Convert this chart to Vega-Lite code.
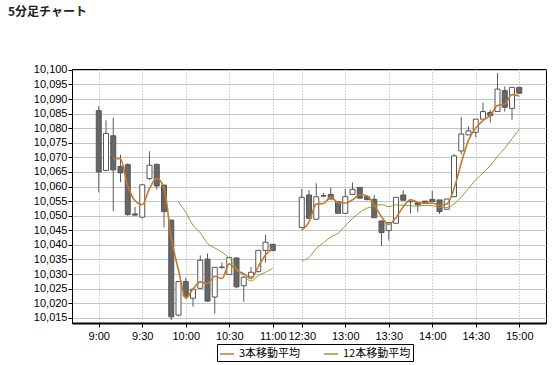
{
  "$schema": "https://vega.github.io/schema/vega-lite/v6.json",
  "autosize": {"type": "none"},
  "padding": {"left": 72, "top": 69, "right": 13, "bottom": 42},
  "width": 474,
  "height": 254,
  "background": "white",
  "title": {"text": "5分足チャート", "anchor": "start", "frame": "group", "dx": -64, "offset": 45, "fontSize": 12, "fontWeight": "bold", "font": "Noto Sans CJK JP", "color": "#222"},
  "config": {
    "view": {"stroke": "#000", "strokeWidth": 1},
    "font": "Liberation Sans",
    "axis": {"labelFont": "Liberation Sans", "labelFontSize": 11, "labelColor": "#000", "domainColor": "#000", "tickColor": "#000", "tickSize": 4, "title": null}
  },
  "data": {"values": [
    {"t":"9:00","i":0,"s":"am","o":10086,"h":10087.5,"l":10058,"c":10065,"m3":null,"m12":null},
    {"t":"9:05","i":1,"s":"am","o":10065.5,"h":10082.7,"l":10065.3,"c":10078.2,"m3":null,"m12":null},
    {"t":"9:10","i":2,"s":"am","o":10077.4,"h":10083.6,"l":10051.5,"c":10065.7,"m3":10069.63,"m12":null},
    {"t":"9:15","i":3,"s":"am","o":10066.9,"h":10070.9,"l":10061.5,"c":10064.7,"m3":10069.53,"m12":null},
    {"t":"9:20","i":4,"s":"am","o":10067.5,"h":10068,"l":10049.8,"c":10050.4,"m3":10060.27,"m12":null},
    {"t":"9:25","i":5,"s":"am","o":10050.6,"h":10053,"l":10050,"c":10050.2,"m3":10055.1,"m12":null},
    {"t":"9:30","i":6,"s":"am","o":10049.5,"h":10060.9,"l":10049,"c":10060.6,"m3":10053.73,"m12":null},
    {"t":"9:35","i":7,"s":"am","o":10062.7,"h":10072.1,"l":10062.3,"c":10067.3,"m3":10059.37,"m12":null},
    {"t":"9:40","i":8,"s":"am","o":10067.6,"h":10067.8,"l":10059,"c":10060.2,"m3":10062.7,"m12":null},
    {"t":"9:45","i":9,"s":"am","o":10060.5,"h":10060.5,"l":10046,"c":10051.4,"m3":10059.63,"m12":null},
    {"t":"9:50","i":10,"s":"am","o":10048.5,"h":10048.5,"l":10014.2,"c":10015.3,"m3":10042.3,"m12":null},
    {"t":"9:55","i":11,"s":"am","o":10015.9,"h":10027.4,"l":10015.5,"c":10027.4,"m3":10031.37,"m12":10054.7},
    {"t":"10:00","i":12,"s":"am","o":10027.4,"h":10028.7,"l":10022,"c":10022.4,"m3":10021.7,"m12":10051.15},
    {"t":"10:05","i":13,"s":"am","o":10021.7,"h":10024.8,"l":10018.8,"c":10024.8,"m3":10024.87,"m12":10046.7},
    {"t":"10:10","i":14,"s":"am","o":10025.1,"h":10036.4,"l":10025,"c":10034.7,"m3":10027.3,"m12":10044.12},
    {"t":"10:15","i":15,"s":"am","o":10035.1,"h":10037,"l":10020.5,"c":10020.7,"m3":10026.73,"m12":10040.45},
    {"t":"10:20","i":16,"s":"am","o":10022.1,"h":10032.3,"l":10016.4,"c":10032.3,"m3":10029.23,"m12":10038.94},
    {"t":"10:25","i":17,"s":"am","o":10032.2,"h":10034,"l":10031.8,"c":10032.4,"m3":10028.47,"m12":10037.46},
    {"t":"10:30","i":18,"s":"am","o":10029.8,"h":10035.7,"l":10029.7,"c":10035.7,"m3":10033.47,"m12":10035.38},
    {"t":"10:35","i":19,"s":"am","o":10035.5,"h":10035.6,"l":10025.1,"c":10025.6,"m3":10031.23,"m12":10031.91},
    {"t":"10:40","i":20,"s":"am","o":10026,"h":10028.9,"l":10020.5,"c":10028.9,"m3":10030.07,"m12":10029.3},
    {"t":"10:45","i":21,"s":"am","o":10029,"h":10032.4,"l":10029,"c":10030.6,"m3":10028.37,"m12":10027.57},
    {"t":"10:50","i":22,"s":"am","o":10030.8,"h":10038.1,"l":10030.8,"c":10038.1,"m3":10032.53,"m12":10029.47},
    {"t":"10:55","i":23,"s":"am","o":10038.1,"h":10043.4,"l":10033.9,"c":10040.9,"m3":10036.53,"m12":10030.59},
    {"t":"11:00","i":24,"s":"am","o":10040.2,"h":10040.2,"l":10038,"c":10038,"m3":10039,"m12":10031.89},
    {"t":"12:30","i":28,"s":"pm","o":10046,"h":10059.2,"l":10046,"c":10056.3,"m3":10045.07,"m12":10034.52},
    {"t":"12:35","i":29,"s":"pm","o":10057.1,"h":10058.8,"l":10049,"c":10049.1,"m3":10047.8,"m12":10035.72},
    {"t":"12:40","i":30,"s":"pm","o":10048.8,"h":10061.1,"l":10048.8,"c":10056.5,"m3":10053.97,"m12":10038.7},
    {"t":"12:45","i":31,"s":"pm","o":10056.7,"h":10057.8,"l":10056.3,"c":10056.9,"m3":10054.17,"m12":10040.75},
    {"t":"12:50","i":32,"s":"pm","o":10057.3,"h":10059.7,"l":10055.7,"c":10055.7,"m3":10056.37,"m12":10042.69},
    {"t":"12:55","i":33,"s":"pm","o":10054.8,"h":10054.8,"l":10050.8,"c":10050.8,"m3":10054.47,"m12":10043.95},
    {"t":"13:00","i":34,"s":"pm","o":10050.8,"h":10059.2,"l":10050.8,"c":10056.5,"m3":10054.33,"m12":10046.53},
    {"t":"13:05","i":35,"s":"pm","o":10057.3,"h":10061.4,"l":10057.3,"c":10059,"m3":10055.43,"m12":10049.03},
    {"t":"13:10","i":36,"s":"pm","o":10059.7,"h":10059.7,"l":10056,"c":10056,"m3":10057.17,"m12":10051.15},
    {"t":"13:15","i":37,"s":"pm","o":10056.5,"h":10056.8,"l":10055.3,"c":10055.5,"m3":10056.83,"m12":10052.6},
    {"t":"13:20","i":38,"s":"pm","o":10055.6,"h":10057.1,"l":10049.3,"c":10049.3,"m3":10053.6,"m12":10053.3},
    {"t":"13:25","i":39,"s":"pm","o":10048.2,"h":10048.2,"l":10039.6,"c":10044.2,"m3":10049.67,"m12":10053.82},
    {"t":"13:30","i":40,"s":"pm","o":10044.9,"h":10047.6,"l":10041.5,"c":10047.6,"m3":10047.03,"m12":10053.09},
    {"t":"13:35","i":41,"s":"pm","o":10047.4,"h":10056.3,"l":10047.4,"c":10056.3,"m3":10049.37,"m12":10053.69},
    {"t":"13:40","i":42,"s":"pm","o":10057.1,"h":10058.7,"l":10055.2,"c":10055.3,"m3":10053.07,"m12":10053.59},
    {"t":"13:45","i":43,"s":"pm","o":10054.9,"h":10055.3,"l":10050.8,"c":10054.8,"m3":10055.47,"m12":10053.42},
    {"t":"13:50","i":44,"s":"pm","o":10054.5,"h":10054.5,"l":10051.2,"c":10053.7,"m3":10054.6,"m12":10053.25},
    {"t":"13:55","i":45,"s":"pm","o":10055,"h":10055,"l":10054.3,"c":10054.4,"m3":10054.3,"m12":10053.55},
    {"t":"14:00","i":46,"s":"pm","o":10055.6,"h":10058.5,"l":10054.9,"c":10054.9,"m3":10054.33,"m12":10053.42},
    {"t":"14:05","i":47,"s":"pm","o":10055.4,"h":10055.4,"l":10050.6,"c":10051.4,"m3":10053.57,"m12":10052.78},
    {"t":"14:10","i":48,"s":"pm","o":10052.2,"h":10055.7,"l":10052.2,"c":10055.7,"m3":10054,"m12":10052.76},
    {"t":"14:15","i":49,"s":"pm","o":10056.5,"h":10071.1,"l":10056.5,"c":10070.5,"m3":10059.2,"m12":10054.01},
    {"t":"14:20","i":50,"s":"pm","o":10072.2,"h":10083.8,"l":10071,"c":10078,"m3":10068.07,"m12":10056.4},
    {"t":"14:25","i":51,"s":"pm","o":10077.7,"h":10080.5,"l":10077.7,"c":10079.1,"m3":10075.87,"m12":10059.31},
    {"t":"14:30","i":52,"s":"pm","o":10078.6,"h":10083.1,"l":10076.9,"c":10083.1,"m3":10080.07,"m12":10062.27},
    {"t":"14:35","i":53,"s":"pm","o":10083.1,"h":10088.8,"l":10083.1,"c":10085.7,"m3":10082.63,"m12":10064.72},
    {"t":"14:40","i":54,"s":"pm","o":10085.4,"h":10086.2,"l":10082,"c":10084.3,"m3":10084.37,"m12":10067.13},
    {"t":"14:45","i":55,"s":"pm","o":10085.7,"h":10098.9,"l":10085.7,"c":10093.4,"m3":10087.8,"m12":10070.35},
    {"t":"14:50","i":56,"s":"pm","o":10092.9,"h":10094.3,"l":10085.7,"c":10087.2,"m3":10088.3,"m12":10073.14},
    {"t":"14:55","i":57,"s":"pm","o":10086.8,"h":10094,"l":10082.8,"c":10094,"m3":10091.53,"m12":10076.44},
    {"t":"15:00","i":58,"s":"pm","o":10094,"h":10094,"l":10092,"c":10092,"m3":10091.07,"m12":10079.53}
  ]},
  "encoding": {
    "x": {"field": "i", "type": "quantitative",
      "scale": {"domain": [-3, 61], "nice": false, "zero": false},
      "axis": {"values": [0, 6, 12, 18, 24, 28, 34, 40, 46, 52, 58],
        "labelExpr": "datum.value <= 24 ? (floor(datum.value/12)+9) + ':' + (datum.value % 12 == 0 ? '00' : '30') : (floor((datum.value-22)/12)+12) + ':' + ((datum.value-28) % 12 == 0 ? '30' : '00')",
        "grid": true, "gridColor": "#a8a8a8", "gridDash": [1, 2], "gridWidth": 1,
        "domainWidth": 2, "labelPadding": 3, "labelFlush": false}}
  },
  "layer": [
    {"mark": {"type": "rule", "color": "#5a5a5a", "strokeWidth": 1},
     "encoding": {
       "y": {"field": "l", "type": "quantitative",
         "scale": {"domain": [10013.2, 10100.3], "nice": false, "zero": false},
         "axis": {"values": [10015,10020,10025,10030,10035,10040,10045,10050,10055,10060,10065,10070,10075,10080,10085,10090,10095,10100],
           "format": ",", "grid": true, "gridColor": "#c4c4c4", "gridWidth": 1, "labelPadding": 1, "domainWidth": 1}},
       "y2": {"field": "h"}}},
    {"mark": {"type": "bar", "width": 5, "stroke": "#555555", "strokeWidth": 1},
     "encoding": {
       "y": {"field": "o", "type": "quantitative",
         "scale": {"domain": [10013.2, 10100.3], "nice": false, "zero": false},
         "axis": {"values": [10015,10020,10025,10030,10035,10040,10045,10050,10055,10060,10065,10070,10075,10080,10085,10090,10095,10100],
           "format": ",", "grid": true, "gridColor": "#c4c4c4", "gridWidth": 1, "labelPadding": 1, "domainWidth": 1}},
       "y2": {"field": "c"},
       "fill": {"condition": {"test": "datum.o > datum.c", "value": "#666666"}, "value": "#ffffff"}}},
    {"mark": {"type": "line", "strokeWidth": 1.6, "interpolate": "monotone"},
     "encoding": {
       "y": {"field": "m3", "type": "quantitative",
         "scale": {"domain": [10013.2, 10100.3], "nice": false, "zero": false},
         "axis": {"values": [10015,10020,10025,10030,10035,10040,10045,10050,10055,10060,10065,10070,10075,10080,10085,10090,10095,10100],
           "format": ",", "grid": true, "gridColor": "#c4c4c4", "gridWidth": 1, "labelPadding": 1, "domainWidth": 1}},
       "detail": {"field": "s"},
       "color": {"datum": "3本移動平均", "type": "nominal",
         "scale": {"domain": ["3本移動平均", "12本移動平均"], "range": ["#c9772a", "#8f9c3a"]},
         "legend": {"title": null, "orient": "none", "legendX": 145, "legendY": 275, "direction": "horizontal",
           "strokeColor": "#000", "fillColor": "#fff", "padding": 2, "symbolType": "stroke", "symbolSize": 196,
           "symbolStrokeWidth": 1.5, "labelFontSize": 11, "labelFont": "Noto Sans CJK JP", "labelColor": "#000",
           "columnPadding": 20, "labelOffset": 4, "cornerRadius": 0}}}},
    {"mark": {"type": "line", "strokeWidth": 1, "interpolate": "monotone"},
     "encoding": {
       "y": {"field": "m12", "type": "quantitative",
         "scale": {"domain": [10013.2, 10100.3], "nice": false, "zero": false},
         "axis": {"values": [10015,10020,10025,10030,10035,10040,10045,10050,10055,10060,10065,10070,10075,10080,10085,10090,10095,10100],
           "format": ",", "grid": true, "gridColor": "#c4c4c4", "gridWidth": 1, "labelPadding": 1, "domainWidth": 1}},
       "detail": {"field": "s"},
       "color": {"datum": "12本移動平均", "type": "nominal"}}}
  ]
}
